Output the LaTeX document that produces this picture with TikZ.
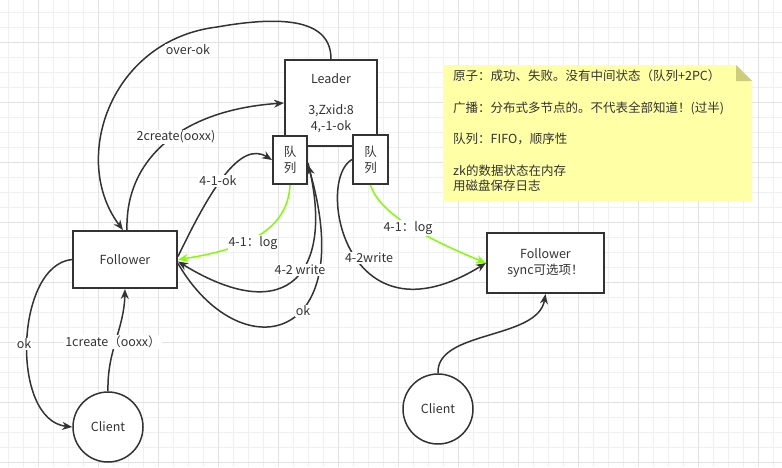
\documentclass[tikz,border=0pt]{standalone}
\usepackage{fontspec}
\setmainfont{Noto Sans CJK SC}
\usepackage{tikz}
\usetikzlibrary{arrows.meta,positioning}
\definecolor{ink}{HTML}{333333}
\definecolor{gridminor}{HTML}{F0F0F0}
\definecolor{gridmajor}{HTML}{E2E2E2}
\definecolor{notefill}{HTML}{FFFFA6}
\definecolor{notefold}{HTML}{CDCD7C}
\definecolor{loggreen}{HTML}{80FF00}
\tikzstyle{box}=[draw=ink,line width=2pt,fill=white,inner sep=0pt,align=center,text=ink]
\tikzstyle{client}=[draw=ink,line width=1.5pt,fill=white,circle,minimum size=70pt,inner sep=0pt,text=ink]
\tikzstyle{lbl}=[fill=white,inner sep=1pt,text=ink]

\begin{document}
\begin{tikzpicture}[x=1pt,y=-1pt,
font=\fontsize{12.5}{15.7}\selectfont,
flow/.style={draw=ink,line width=1.5pt,-{Stealth[length=10pt,width=8pt]}},
logflow/.style={flow,draw=loggreen}]
\useasboundingbox (0,0) rectangle (782,467);
\foreach \gx in {8,23,...,782} \draw[gridminor,line width=1pt] (\gx,0) -- (\gx,467);
\foreach \gy in {12,27,...,467} \draw[gridminor,line width=1pt] (0,\gy) -- (782,\gy);
\foreach \gx in {38,98,...,782} \draw[gridmajor,line width=1pt] (\gx,0) -- (\gx,467);
\foreach \gy in {42,102,...,467} \draw[gridmajor,line width=1pt] (0,\gy) -- (782,\gy);

\fill[notefill] (443,65) -- (736,65) -- (752,81) -- (752,201) -- (443,201) -- cycle;
\fill[notefold] (736,65) -- (752,81) -- (736,81) -- cycle;
\node[anchor=north west,align=left,inner sep=0pt,text=ink] (memo) at (453,70) {原子：成功、失败。没有中间状态（队列+2PC）\\[15.7pt]
    广播：分布式多节点的。不代表全部知道！(过半)\\[15.7pt]
    队列：FIFO，顺序性\\[15.7pt]
    zk的数据状态在内存\\
    用磁盘保存日志};

\node[box,minimum width=92pt,minimum height=86pt] (lead) at (331,103) {Leader\\[15.7pt]3,Zxid:8\\4,-1-ok};
\node[box,minimum width=34pt,minimum height=48pt] (q1) at (290,160) {队\\列};
\node[box,minimum width=35pt,minimum height=49pt] (q2) at (370.5,159.5) {队\\列};
\node[box,minimum width=104pt,minimum height=57pt] (fol) at (125,259.5) {Follower};
\node[box,minimum width=117pt,minimum height=60pt] (fol2) at (545.5,263) {Follower\\sync可选项！};
\node[client] (cli) at (108,427) {Client};
\node[client] (cli2) at (438,409) {Client};

\draw[flow] (lead.north) .. controls (331,20) and (285,15) .. (217,27)
    .. controls (110,40) and (70,160) .. ([xshift=-2pt]fol.north);
\draw[flow] ([xshift=2pt]fol.north) .. controls (125,160) and (180,110) .. (lead.west);
\draw[flow] ([yshift=3pt]fol.east) .. controls (210,190) and (240,140) .. (q1.west);
\draw[logflow] (q1.south) .. controls (288,225) and (255,248) .. (fol.east);
\draw[flow] ([yshift=-3pt]q1.east) .. controls (335,270) and (290,330) .. ([yshift=-2pt]fol.east);
\draw[flow] ([yshift=-4pt]fol.east) .. controls (240,370) and (360,345) .. ([yshift=-5pt]q1.east);
\draw[flow] (q2.west) .. controls (315,180) and (345,350) .. (fol2.west);
\draw[logflow] (q2.south) .. controls (380,215) and (430,240) .. (fol2.west);
\draw[flow] (fol.west) .. controls (15,265) and (10,420) .. (cli.west);
\draw[flow] (cli.north) .. controls (107,350) and (124,330) .. (fol.south);
\draw[flow] (cli2.north) .. controls (436,330) and (538,340) .. (fol2.south);

\node[lbl] (overok) at (188,50) {over-ok};
\node[lbl] (create2) at (176,137) {2create(ooxx)};
\node[lbl] (ok41) at (218,181) {4-1-ok};
\node[lbl] (log1) at (253,243) {4-1：log};
\node[lbl] (write1) at (300,270) {4-2 write};
\node[lbl] (okq) at (303,311) {ok};
\node[lbl] (write2) at (369,258) {4-2write};
\node[lbl] (log2) at (408,228) {4-1：log};
\node[lbl] (okcli) at (24,344) {ok};
\node[lbl] (create1) at (113,342) {1create（ooxx）};
\end{tikzpicture}
\end{document}
